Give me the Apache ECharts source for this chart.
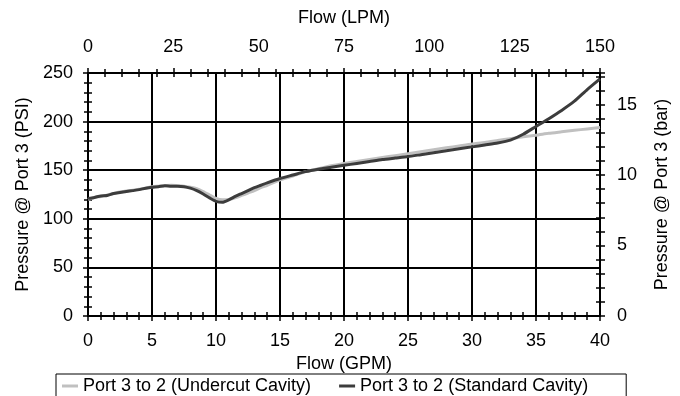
<!DOCTYPE html>
<html>
<head>
<meta charset="utf-8">
<script src="https://cdn.jsdelivr.net/npm/echarts@6/dist/echarts.min.js"></script>
<style>
  html, body { margin: 0; padding: 0; background: #fff; }
  #chart { width: 680px; height: 396px; }
</style>
</head>
<body>
<div id="chart"></div>
<script>
// flow in GPM, pressure at port 3 in PSI
const flowGpm = [0, 0.5, 1, 1.5, 2, 2.5, 3, 3.5, 4, 4.5, 5, 5.5, 6, 6.5, 7, 7.5, 8, 8.5, 9, 9.5,
  10, 10.5, 11, 11.5, 12, 12.5, 13, 13.5, 14, 15, 16, 17, 18, 19, 20, 21, 22, 23, 24, 25,
  26, 27, 28, 29, 30, 31, 32, 33, 34, 35, 36, 37, 38, 39, 40]
const undercutPsi = [120, 122, 123, 124.5, 126, 127.5, 128.5, 129.5, 130.5, 131.5, 133, 133.5, 134, 134.5, 134, 133.5, 132.5, 131, 128, 124.5,
  121, 119.5, 120, 121.5, 124, 126.5, 129, 132, 134.5, 140, 144, 148.5, 151.5, 154.5, 157, 159, 161, 163, 165, 167,
  169, 171, 173, 175, 177, 178.5, 180.5, 182.5, 184.5, 186, 188, 189.5, 191, 192.5, 194]
const standardPsi = [121, 122, 123.5, 124, 126, 127, 128, 129, 130, 131.5, 132.5, 133, 134, 133.5, 133.5, 133, 131.5, 129, 125.5, 121.5,
  118, 117, 119.5, 123, 126, 129, 132, 134.5, 137, 141.5, 145, 148.5, 151, 153, 155, 157, 159, 161, 162.5, 164,
  166, 168, 170, 172, 174, 176, 178, 181, 187, 195, 203, 211.5, 221, 233, 244]
const seriesNames = ['Port 3 to 2 (Undercut Cavity)', 'Port 3 to 2 (Standard Cavity)']
const psiPerBar = 14.5038

const font = { fontFamily: 'Liberation Sans, Arial, sans-serif', fontSize: 18, color: '#000' }

// each axis is drawn twice: once with outside ticks + labels, once with inside ticks,
// so the ticks cross the axis line like in the original
function makeAxis(opts, inside) {
  let axis = {
    type: 'value',
    position: opts.position,
    min: 0,
    max: opts.max,
    interval: opts.interval,
    axisLine: { show: !inside, onZero: false, lineStyle: { color: '#000', width: 2 } },
    axisTick: { show: true, inside: inside, length: inside ? 4 : 5, lineStyle: { color: '#000', width: 1.5 } },
    minorTick: { show: opts.minor > 0, splitNumber: opts.minor, length: 4, lineStyle: { color: '#000', width: 1.5 } },
    splitLine: { show: false },
    axisLabel: { show: false },
  }
  if (inside) return axis
  axis.name = opts.name
  axis.nameLocation = 'middle'
  axis.nameGap = opts.nameGap
  axis.nameTextStyle = font
  if (opts.nameRotate !== undefined) axis.nameRotate = opts.nameRotate
  axis.axisLabel = Object.assign({ show: true, margin: opts.margin }, font)
  if (opts.formatter) axis.axisLabel.formatter = opts.formatter
  if (opts.split) axis.splitLine = { show: true, lineStyle: { color: '#000', width: 2 } }
  return axis
}

const gpmAxis = { position: 'bottom', max: 40, interval: 5, minor: 5, name: 'Flow (GPM)', nameGap: 36, margin: 16, split: true }
const lpmAxis = { position: 'top', max: 150, interval: 25, minor: 5, name: 'Flow (LPM)', nameGap: 46, margin: 17 }
const psiAxis = { position: 'left', max: 250, interval: 50, minor: 5, name: 'Pressure @ Port 3 (PSI)', nameGap: 52, nameRotate: 90, margin: 15, split: true }
const barAxis = {
  position: 'right', max: 250 / psiPerBar, interval: 1, minor: 0, name: 'Pressure @ Port 3 (bar)', nameGap: 53, nameRotate: 90, margin: 17,
  formatter: (v) => (Math.abs(v % 5) < 1e-6 ? String(v) : ''),
}

const option = {
  animation: false,
  backgroundColor: '#fff',
  textStyle: font,
  grid: { left: 88, right: 80, top: 73, bottom: 80 },
  xAxis: [makeAxis(gpmAxis, false), makeAxis(gpmAxis, true), makeAxis(lpmAxis, false), makeAxis(lpmAxis, true)],
  yAxis: [makeAxis(psiAxis, false), makeAxis(psiAxis, true), makeAxis(barAxis, false), makeAxis(barAxis, true)],
  legend: {
    data: seriesNames,
    left: 56,
    top: 374,
    icon: 'rect',
    itemWidth: 16,
    itemHeight: 3,
    itemGap: 28,
    padding: [3, 38, 20, 6],
    borderColor: '#000',
    borderWidth: 1,
    borderRadius: 0,
    textStyle: font,
  },
  series: [
    {
      name: seriesNames[0],
      type: 'line',
      xAxisIndex: 0,
      yAxisIndex: 0,
      data: flowGpm.map((x, i) => [x, undercutPsi[i]]),
      showSymbol: false,
      smooth: 0.2,
      lineStyle: { color: '#c0c0c0', width: 3 },
      itemStyle: { color: '#c0c0c0' },
    },
    {
      name: seriesNames[1],
      type: 'line',
      xAxisIndex: 0,
      yAxisIndex: 0,
      data: flowGpm.map((x, i) => [x, standardPsi[i]]),
      showSymbol: false,
      smooth: 0.2,
      lineStyle: { color: '#3c3c3c', width: 3 },
      itemStyle: { color: '#3c3c3c' },
    },
  ],
}

const myChart = echarts.init(document.getElementById('chart'))
myChart.setOption(option)
</script>
</body>
</html>
